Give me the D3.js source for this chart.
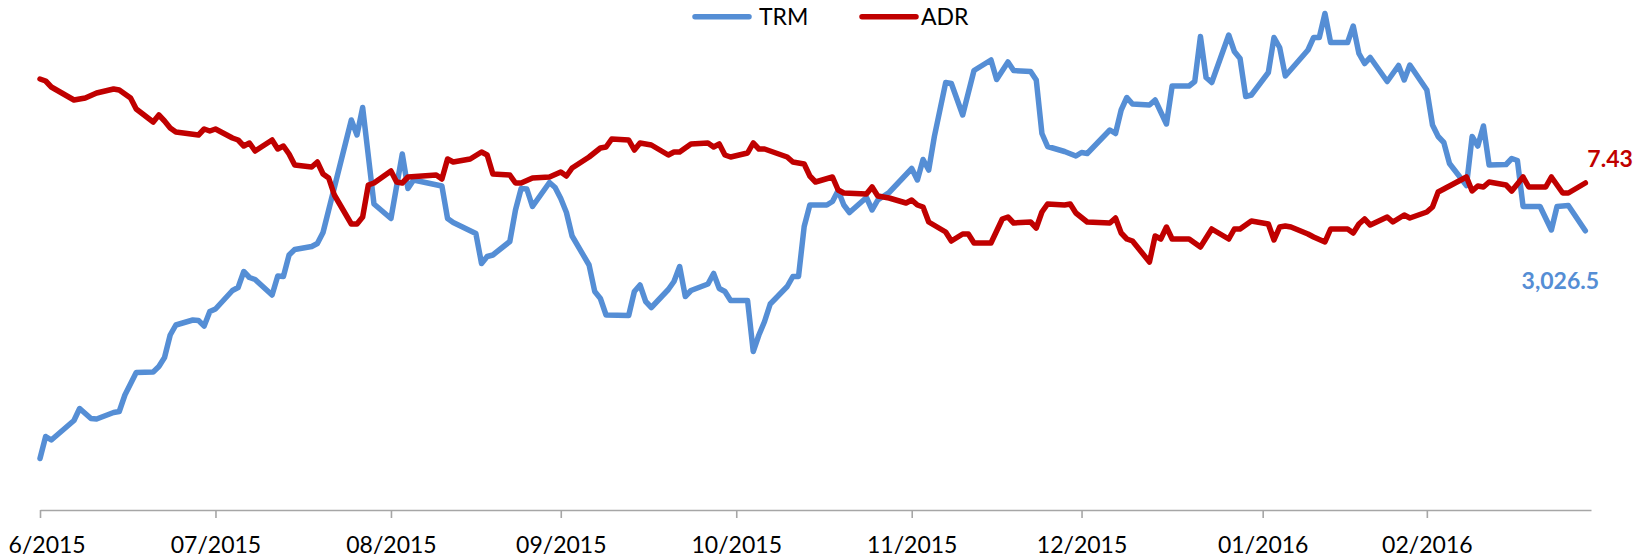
<!DOCTYPE html>
<html>
<head>
<meta charset="utf-8">
<script src="https://cdn.jsdelivr.net/npm/d3@7"></script>
<style>
  html, body { margin: 0; padding: 0; background: #ffffff; }
  svg { display: block; font-family: Lato, "Open Sans", sans-serif; }
</style>
</head>
<body>
<svg id="chart" width="1649" height="560"></svg>
<script>
// ---- data ----------------------------------------------------------------
const seriesNames = ["TRM", "ADR"];
const xDomain = ["2015-06-01", "2016-03-01"];
// vertical extents of the two (hidden) value axes
const trmDomain = [2468, 3468];
const adrDomain = [4.16, 9.16];

// month ticks and their labels
const tickDates = ["2015-06-01","2015-07-02","2015-08-02","2015-09-01","2015-10-02",
                   "2015-11-02","2015-12-02","2016-01-03","2016-02-01"];
const tickLabels = ["6/2015","07/2015","08/2015","09/2015","10/2015",
                    "11/2015","12/2015","01/2016","02/2016"];

const trmDates = [
  "2015-06-01","2015-06-02","2015-06-03","2015-06-07","2015-06-08","2015-06-10","2015-06-11","2015-06-14",
  "2015-06-15","2015-06-16","2015-06-18","2015-06-21","2015-06-22","2015-06-23","2015-06-24","2015-06-25",
  "2015-06-28","2015-06-29","2015-06-30","2015-07-01","2015-07-02","2015-07-05","2015-07-06","2015-07-07",
  "2015-07-08","2015-07-09","2015-07-12","2015-07-13","2015-07-14","2015-07-15","2015-07-16","2015-07-19",
  "2015-07-20","2015-07-21","2015-07-22","2015-07-26","2015-07-27","2015-07-28","2015-07-30","2015-08-02",
  "2015-08-04","2015-08-05","2015-08-06","2015-08-11","2015-08-12","2015-08-13","2015-08-17","2015-08-18",
  "2015-08-19","2015-08-20","2015-08-23","2015-08-24","2015-08-25","2015-08-26","2015-08-27","2015-08-30",
  "2015-08-31","2015-09-01","2015-09-02","2015-09-03","2015-09-06","2015-09-07","2015-09-08","2015-09-09",
  "2015-09-13","2015-09-14","2015-09-15","2015-09-16","2015-09-17","2015-09-20","2015-09-21","2015-09-22",
  "2015-09-23","2015-09-24","2015-09-27","2015-09-28","2015-09-29","2015-09-30","2015-10-01","2015-10-04",
  "2015-10-05","2015-10-06","2015-10-07","2015-10-08","2015-10-11","2015-10-12","2015-10-13","2015-10-14",
  "2015-10-15","2015-10-18","2015-10-19","2015-10-20","2015-10-21","2015-10-22","2015-10-25","2015-10-26",
  "2015-10-27","2015-10-29","2015-11-02","2015-11-03","2015-11-04","2015-11-05","2015-11-06","2015-11-08",
  "2015-11-09","2015-11-11","2015-11-13","2015-11-16","2015-11-17","2015-11-19","2015-11-20","2015-11-23",
  "2015-11-24","2015-11-25","2015-11-26","2015-11-29","2015-12-01","2015-12-02","2015-12-03","2015-12-07",
  "2015-12-08","2015-12-09","2015-12-10","2015-12-11","2015-12-14","2015-12-15","2015-12-17","2015-12-18",
  "2015-12-21","2015-12-22","2015-12-23","2015-12-24","2015-12-25","2015-12-28","2015-12-29","2015-12-30",
  "2015-12-31","2016-01-01","2016-01-04","2016-01-05","2016-01-06","2016-01-07","2016-01-11","2016-01-12",
  "2016-01-13","2016-01-14","2016-01-15","2016-01-18","2016-01-19","2016-01-20","2016-01-21","2016-01-22",
  "2016-01-25","2016-01-27","2016-01-28","2016-01-29","2016-02-01","2016-02-02","2016-02-03","2016-02-04",
  "2016-02-05","2016-02-08","2016-02-09","2016-02-10","2016-02-11","2016-02-12","2016-02-15","2016-02-16",
  "2016-02-17","2016-02-18","2016-02-21","2016-02-23","2016-02-24","2016-02-26","2016-02-29"
];
const trmValues = [
  2571,2615,2608,2647,2671,2651,2650,2663,
  2665,2698,2743,2744,2755,2773,2818,2838,
  2848,2847,2836,2865,2870,2907,2913,2945,
  2933,2929,2898,2936,2935,2978,2989,2995,
  3001,3023,3068,3248,3218,3273,3080,3051,
  3180,3111,3128,3116,3051,3043,3021,2961,
  2975,2978,3005,3068,3111,3110,3075,3123,
  3113,3091,3063,3016,2958,2905,2891,2858,
  2857,2905,2918,2885,2873,2909,2925,2955,
  2895,2907,2920,2941,2911,2905,2887,2887,
  2785,2818,2845,2880,2915,2935,2935,3035,
  3078,3078,3085,3107,3078,3063,3093,3068,
  3088,3103,3151,3128,3169,3148,3215,3323,
  3321,3258,3347,3368,3329,3364,3347,3345,
  3328,3221,3195,3185,3176,3183,3181,3228,
  3221,3268,3293,3280,3278,3288,3240,3316,
  3316,3325,3415,3333,3323,3418,3385,3371,
  3295,3298,3343,3413,3393,3336,3388,3413,
  3413,3461,3403,3403,3436,3381,3361,3373,
  3325,3357,3328,3358,3308,3238,3215,3203,
  3161,3117,3215,3196,3236,3158,3159,3171,
  3167,3075,3075,3028,3075,3077,3026.5
];

const adrDates = [
  "2015-06-01","2015-06-02","2015-06-03","2015-06-07","2015-06-09","2015-06-11","2015-06-14","2015-06-15",
  "2015-06-17","2015-06-18","2015-06-21","2015-06-22","2015-06-23","2015-06-24","2015-06-25","2015-06-29",
  "2015-06-30","2015-07-01","2015-07-02","2015-07-05","2015-07-06","2015-07-07","2015-07-08","2015-07-09",
  "2015-07-12","2015-07-13","2015-07-14","2015-07-15","2015-07-16","2015-07-19","2015-07-20","2015-07-21",
  "2015-07-22","2015-07-23","2015-07-26","2015-07-27","2015-07-28","2015-07-29","2015-07-30","2015-08-02",
  "2015-08-03","2015-08-04","2015-08-05","2015-08-10","2015-08-11","2015-08-12","2015-08-13","2015-08-16",
  "2015-08-18","2015-08-19","2015-08-20","2015-08-23","2015-08-24","2015-08-25","2015-08-27","2015-08-30",
  "2015-09-01","2015-09-02","2015-09-03","2015-09-06","2015-09-08","2015-09-09","2015-09-10","2015-09-13",
  "2015-09-14","2015-09-15","2015-09-17","2015-09-20","2015-09-21","2015-09-22","2015-09-24","2015-09-27",
  "2015-09-28","2015-09-29","2015-09-30","2015-10-01","2015-10-04","2015-10-05","2015-10-06","2015-10-07",
  "2015-10-09","2015-10-11","2015-10-12","2015-10-14","2015-10-15","2015-10-16","2015-10-19","2015-10-20",
  "2015-10-21","2015-10-25","2015-10-26","2015-10-27","2015-10-29","2015-11-01","2015-11-02","2015-11-03",
  "2015-11-04","2015-11-05","2015-11-08","2015-11-09","2015-11-11","2015-11-12","2015-11-13","2015-11-16",
  "2015-11-18","2015-11-19","2015-11-20","2015-11-23","2015-11-24","2015-11-25","2015-11-26","2015-11-29",
  "2015-11-30","2015-12-01","2015-12-03","2015-12-07","2015-12-08","2015-12-09","2015-12-10","2015-12-11",
  "2015-12-14","2015-12-15","2015-12-16","2015-12-17","2015-12-18","2015-12-21","2015-12-23","2015-12-25",
  "2015-12-28","2015-12-29","2015-12-30","2016-01-01","2016-01-04","2016-01-05","2016-01-06","2016-01-07",
  "2016-01-08","2016-01-11","2016-01-12","2016-01-14","2016-01-15","2016-01-18","2016-01-19","2016-01-20",
  "2016-01-21","2016-01-22","2016-01-25","2016-01-26","2016-01-28","2016-01-29","2016-02-01","2016-02-02",
  "2016-02-03","2016-02-04","2016-02-08","2016-02-09","2016-02-10","2016-02-11","2016-02-12","2016-02-15",
  "2016-02-16","2016-02-18","2016-02-19","2016-02-22","2016-02-23","2016-02-25","2016-02-26","2016-02-29"
];
const adrValues = [
  8.47,8.45,8.39,8.26,8.28,8.33,8.37,8.36,
  8.28,8.17,8.04,8.11,8.05,7.98,7.94,7.91,
  7.97,7.95,7.97,7.88,7.86,7.80,7.83,7.75,
  7.86,7.77,7.80,7.72,7.61,7.59,7.64,7.52,
  7.48,7.31,7.02,7.02,7.09,7.41,7.43,7.55,
  7.44,7.43,7.49,7.51,7.47,7.67,7.64,7.67,
  7.74,7.71,7.52,7.51,7.43,7.43,7.48,7.49,
  7.54,7.50,7.58,7.69,7.78,7.79,7.87,7.86,
  7.76,7.83,7.81,7.71,7.74,7.74,7.82,7.83,
  7.79,7.82,7.71,7.69,7.73,7.83,7.77,7.77,
  7.73,7.69,7.64,7.62,7.50,7.44,7.49,7.36,
  7.33,7.32,7.39,7.30,7.28,7.23,7.26,7.21,
  7.19,7.04,6.94,6.85,6.92,6.92,6.83,6.83,
  7.07,7.09,7.03,7.04,6.98,7.14,7.22,7.21,
  7.22,7.13,7.04,7.03,7.08,6.93,6.87,6.85,
  6.64,6.90,6.87,6.99,6.87,6.87,6.79,6.97,
  6.87,6.97,6.97,7.05,7.02,6.86,6.99,7.00,
  6.99,6.92,6.89,6.84,6.97,6.97,6.93,7.02,
  7.07,7.01,7.09,7.04,7.11,7.08,7.14,7.19,
  7.34,7.37,7.49,7.35,7.40,7.39,7.44,7.41,
  7.35,7.49,7.39,7.39,7.49,7.33,7.33,7.43
];

// ---- layout ----------------------------------------------------------------
const width = 1649, height = 560;
const plot = { left: 40, right: 1591, top: 10, bottom: 510 };
const colors = { TRM: "#558ED5", ADR: "#C00000" };
const lineWidth = 5.5;
const fontSize = "23px";

const parse = d3.utcParse("%Y-%m-%d");
const toPoints = (dates, values) => dates.map((d, i) => ({ date: parse(d), value: values[i] }));
const trm = toPoints(trmDates, trmValues);
const adr = toPoints(adrDates, adrValues);

const x = d3.scaleUtc().domain(xDomain.map(parse)).range([plot.left, plot.right]);
const yTrm = d3.scaleLinear().domain(trmDomain).range([plot.bottom, plot.top]);
const yAdr = d3.scaleLinear().domain(adrDomain).range([plot.bottom, plot.top]);

const svg = d3.select("#chart");

// ---- x axis ----------------------------------------------------------------
const xAxis = d3.axisBottom(x)
  .tickValues(tickDates.map(parse))
  .tickFormat((d, i) => tickLabels[i])
  .tickSize(8)
  .tickSizeOuter(0);

const gx = svg.append("g")
  .attr("transform", `translate(0,${plot.bottom})`)
  .call(xAxis);
gx.select(".domain").attr("stroke", "#A6A6A6").attr("stroke-width", 1.6);
gx.selectAll(".tick line").attr("stroke", "#A6A6A6").attr("stroke-width", 1.6);
const tickText = gx.selectAll(".tick text")
  .attr("y", 43).attr("dy", 0)
  .attr("fill", "#000")
  .style("font-size", fontSize)
  .style("font-family", "Lato, 'Open Sans', sans-serif");

// the first label sits against the left border: right-align it to where a
// full-width centred label would end
const nodes = tickText.nodes();
const fullHalf = nodes[1].getComputedTextLength() / 2;
d3.select(nodes[0]).attr("text-anchor", "end").attr("x", fullHalf);

// ---- lines ----------------------------------------------------------------
const lineTrm = d3.line().x(d => x(d.date)).y(d => yTrm(d.value));
const lineAdr = d3.line().x(d => x(d.date)).y(d => yAdr(d.value));

svg.append("path").datum(trm)
  .attr("d", lineTrm)
  .attr("fill", "none")
  .attr("stroke", colors.TRM)
  .attr("stroke-width", lineWidth)
  .attr("stroke-linejoin", "round")
  .attr("stroke-linecap", "round");

svg.append("path").datum(adr)
  .attr("d", lineAdr)
  .attr("fill", "none")
  .attr("stroke", colors.ADR)
  .attr("stroke-width", lineWidth)
  .attr("stroke-linejoin", "round")
  .attr("stroke-linecap", "round");

// ---- end-of-series value labels ---------------------------------------------
const lastTrm = trm[trm.length - 1];
const lastAdr = adr[adr.length - 1];

svg.append("text")
  .attr("x", x(lastAdr.date) + 2)
  .attr("y", yAdr(lastAdr.value) - 16)
  .attr("fill", colors.ADR)
  .style("font-size", fontSize)
  .style("font-weight", "bold")
  .text(d3.format(".2f")(lastAdr.value));

svg.append("text")
  .attr("x", x(lastTrm.date) - 25)
  .attr("y", yTrm(lastTrm.value) + 58)
  .attr("text-anchor", "middle")
  .attr("fill", colors.TRM)
  .style("font-size", fontSize)
  .style("font-weight", "bold")
  .text(d3.format(",.1f")(lastTrm.value));

// ---- legend ----------------------------------------------------------------
const legendItems = [
  { name: seriesNames[0], x0: 695, x1: 749, tx: 759 },
  { name: seriesNames[1], x0: 862, x1: 916, tx: 921 }
];
const legend = svg.append("g");
legendItems.forEach(item => {
  legend.append("line")
    .attr("x1", item.x0).attr("x2", item.x1)
    .attr("y1", 16.7).attr("y2", 16.7)
    .attr("stroke", colors[item.name])
    .attr("stroke-width", lineWidth)
    .attr("stroke-linecap", "round");
  legend.append("text")
    .attr("x", item.tx).attr("y", 25)
    .attr("fill", "#000")
    .style("font-size", fontSize)
    .text(item.name);
});
</script>
</body>
</html>
